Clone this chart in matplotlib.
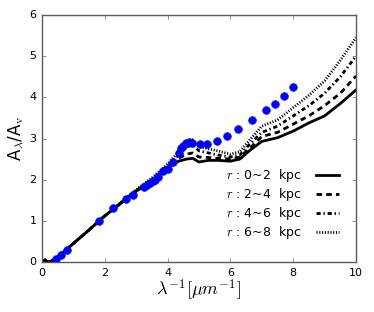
import numpy as np
import matplotlib
matplotlib.use('agg')
import matplotlib.pyplot as plt

# observed extinction curve (blue points)
obs_x = [0.46, 0.62, 0.80, 1.82, 2.27, 2.69, 2.91, 3.24, 3.35, 3.44, 3.53, 3.61,
         3.69, 3.86, 4.01, 4.17, 4.35, 4.43, 4.50, 4.58, 4.68, 4.78, 5.02, 5.26,
         5.57, 5.90, 6.25, 6.68, 7.14, 7.42, 7.70, 8.00]
obs_y = [0.07, 0.18, 0.29, 0.99, 1.31, 1.53, 1.64, 1.83, 1.87, 1.92, 1.96, 2.00,
         2.06, 2.21, 2.27, 2.42, 2.64, 2.78, 2.83, 2.88, 2.91, 2.88, 2.87, 2.87,
         2.95, 3.06, 3.23, 3.46, 3.70, 3.84, 4.03, 4.26]

# model curves
lam = [0.0, 0.1, 0.2, 0.3, 0.5, 1.0, 1.5, 2.0, 2.5, 3.0, 3.5, 4.0, 4.35, 4.6, 4.8,
       5.0, 5.3, 5.6, 6.0, 6.3, 6.6, 7.0, 7.5, 8.0, 8.5, 9.0, 9.5, 10.0]
r02 = [0.0, 0.05, 0.0, 0.02, 0.12, 0.45, 0.78, 1.12, 1.42, 1.72, 1.97, 2.28, 2.45,
       2.50, 2.52, 2.43, 2.47, 2.47, 2.45, 2.50, 2.70, 2.93, 3.02, 3.18, 3.38,
       3.55, 3.85, 4.18]
r24 = [0.0, 0.05, 0.0, 0.02, 0.12, 0.45, 0.78, 1.12, 1.42, 1.73, 1.99, 2.31, 2.52,
       2.62, 2.65, 2.55, 2.54, 2.52, 2.50, 2.55, 2.75, 3.05, 3.15, 3.35, 3.55,
       3.80, 4.10, 4.52]
r46 = [0.0, 0.05, 0.0, 0.02, 0.12, 0.45, 0.78, 1.12, 1.43, 1.74, 2.01, 2.34, 2.60,
       2.78, 2.85, 2.70, 2.65, 2.60, 2.55, 2.60, 2.85, 3.15, 3.30, 3.55, 3.80,
       4.10, 4.50, 5.00]
r68 = [0.0, 0.05, 0.0, 0.02, 0.12, 0.45, 0.78, 1.12, 1.44, 1.76, 2.04, 2.38, 2.68,
       2.90, 2.97, 2.80, 2.75, 2.70, 2.62, 2.68, 2.95, 3.30, 3.45, 3.75, 4.05,
       4.40, 4.90, 5.45]

labels = [r"$r$ : 0~2  kpc", r"$r$ : 2~4  kpc", r"$r$ : 4~6  kpc", r"$r$ : 6~8  kpc"]

plt.style.use('classic')
fig = plt.figure(figsize=(3.74, 3.12), dpi=100)
ax = fig.add_axes([0.112, 0.16, 0.84, 0.792])

ax.plot(lam, r02, 'k-', lw=2, label=labels[0])
ax.plot(lam, r24, 'k', lw=2, dashes=(4, 3), label=labels[1])
ax.plot(lam, r46, 'k', lw=2, dashes=(3, 2, 1, 2), label=labels[2])
ax.plot(lam, r68, 'k', lw=2, dashes=(0.8, 1.2), label=labels[3])
ax.plot(obs_x, obs_y, 'o', color='b', mec='b', ms=5.5)

ax.set_xlim(0, 10)
ax.set_ylim(0, 6)
ax.set_xticks([0, 2, 4, 6, 8, 10])
ax.set_yticks([0, 1, 2, 3, 4, 5, 6])
ax.tick_params(labelsize=8, direction='in', length=3, color='0.4')
for s in ax.spines.values():
    s.set_color('0.35')
ax.set_xlabel(r"$\lambda^{-1}[\mu m^{-1}]$", fontsize=13, labelpad=0)
ax.set_ylabel(r"A$_{\lambda}$/A$_\mathrm{v}$", fontsize=12, labelpad=2)

ax.legend(loc='lower right', frameon=False, markerfirst=False, fontsize=9,
          handlelength=2.5, handletextpad=0.8, labelspacing=0.15,
          bbox_to_anchor=(0.995, 0.04))

fig.savefig("out.png", dpi=100)
